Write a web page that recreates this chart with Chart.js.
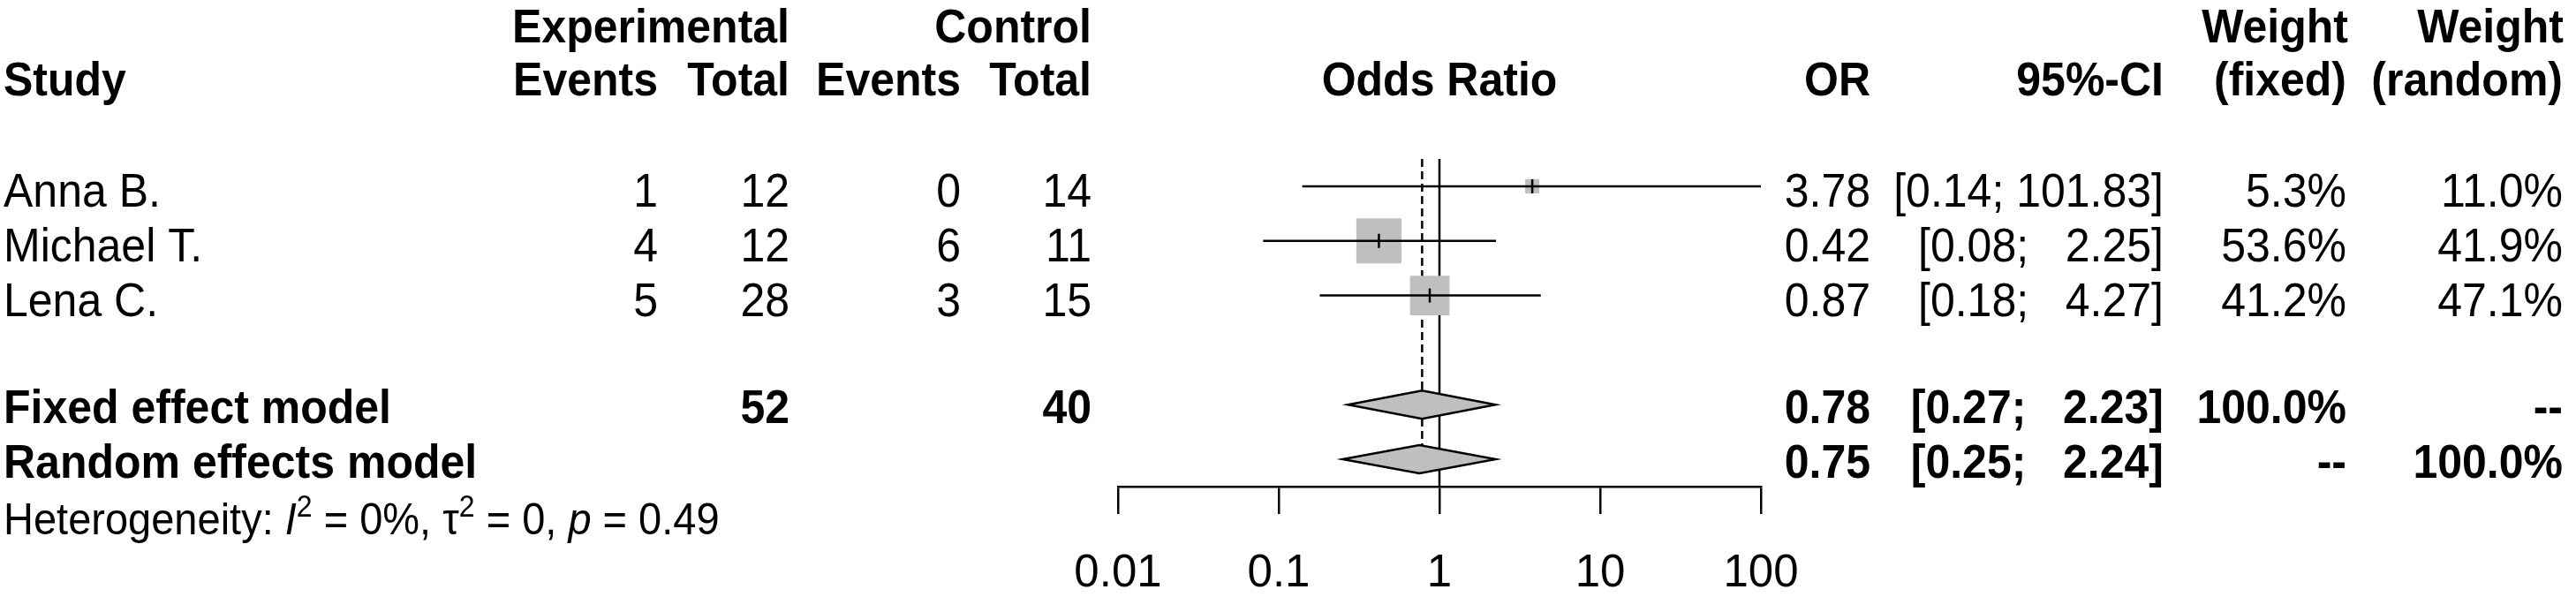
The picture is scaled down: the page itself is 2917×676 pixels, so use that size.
<!DOCTYPE html>
<html><head><meta charset="utf-8">
<script src="https://cdn.jsdelivr.net/npm/chart.js@4.4.1/dist/chart.umd.min.js"></script>
<style>html,body{margin:0;padding:0;background:#fff}canvas{display:block}</style>
</head><body>
<canvas id="c" width="2917" height="676"></canvas>
<script>
// ---- data ----
const studies = ["Anna B.", "Michael T.", "Lena C."];
const expEvents = [1, 4, 5];
const expTotal = [12, 12, 28];
const ctrlEvents = [0, 6, 3];
const ctrlTotal = [14, 11, 15];
const orValues = [3.78, 0.42, 0.87];
const ciLower = [0.14, 0.08, 0.18];
const ciUpper = [101.83, 2.25, 4.27];
const weightFixed = [5.3, 53.6, 41.2];
const weightRandom = [11.0, 41.9, 47.1];
const modelNames = ["Fixed effect model", "Random effects model"];
const modelOR = [0.78, 0.75];
const modelLower = [0.27, 0.25];
const modelUpper = [2.23, 2.24];
const modelWeightFixed = ["100.0%", "--"];
const modelWeightRandom = ["--", "100.0%"];
const totalExp = [52];
const totalCtrl = [40];
const xTicks = [0.01, 0.1, 1, 10, 100];
const studyRows = [0, 1, 2];
const modelRows = [4, 5];

// ---- styles ----
const FONT = "'Liberation Sans', Arial, Helvetica, sans-serif";
const FS = 50;
const VSTRETCH = 1.07;
const GRAY = '#bfbfbf';

const upperStrs = ciUpper.concat(modelUpper).map(v => v.toFixed(2));
const upW = Math.max(...upperStrs.map(s => s.length));
function ciText(lo, hi) { return '[' + lo.toFixed(2) + '; ' + hi.toFixed(2).padStart(upW, ' ') + ']'; }

function drawText(ctx, s, x, y, align, bold, size, italic) {
  ctx.save();
  ctx.font = (italic ? 'italic ' : '') + (bold ? 'bold ' : '') + (size || FS) + 'px ' + FONT;
  ctx.fillStyle = '#000';
  ctx.textAlign = align || 'left';
  ctx.textBaseline = 'alphabetic';
  ctx.translate(x, y);
  ctx.scale(1, VSTRETCH);
  ctx.fillText(s, 0, 0);
  ctx.restore();
}

const tablePlugin = {
  id: 'forestTable',
  beforeDatasetsDraw(chart) {
    const ctx = chart.ctx, xs = chart.scales.x, ys = chart.scales.y, ca = chart.chartArea;
    ctx.save();
    ctx.strokeStyle = '#000';
    ctx.lineWidth = 2.5;
    // line of no effect
    const x1 = xs.getPixelForValue(1);
    ctx.beginPath(); ctx.moveTo(x1, ca.top); ctx.lineTo(x1, ca.bottom); ctx.stroke();
    // dashed fixed-effect line
    const xf = xs.getPixelForValue(modelOR[0]);
    ctx.setLineDash([9, 5]);
    ctx.beginPath(); ctx.moveTo(xf, ca.top); ctx.lineTo(xf, ys.getPixelForValue(modelRows[1]) - 16); ctx.stroke();
    ctx.restore();
  },
  afterDatasetsDraw(chart) {
    const ctx = chart.ctx, xs = chart.scales.x, ys = chart.scales.y;
    // diamonds
    modelRows.forEach((r, i) => {
      const y = ys.getPixelForValue(r);
      const xl = xs.getPixelForValue(modelLower[i]);
      const xm = xs.getPixelForValue(modelOR[i]);
      const xh = xs.getPixelForValue(modelUpper[i]);
      ctx.save();
      ctx.beginPath();
      ctx.moveTo(xl, y); ctx.lineTo(xm, y - 16); ctx.lineTo(xh, y); ctx.lineTo(xm, y + 16); ctx.closePath();
      ctx.fillStyle = GRAY; ctx.fill();
      ctx.strokeStyle = '#000'; ctx.lineWidth = 2.5; ctx.stroke();
      ctx.restore();
    });
  },
  afterDraw(chart) {
    const ctx = chart.ctx, ys = chart.scales.y;
    // headers
    const h1 = 48, h2 = 108;
    drawText(ctx, 'Experimental', 894, h1, 'right', true);
    drawText(ctx, 'Control', 1236, h1, 'right', true);
    drawText(ctx, 'Weight', 2659, h1, 'right', true);
    drawText(ctx, 'Weight', 2903, h1, 'right', true);
    drawText(ctx, 'Study', 4, h2, 'left', true);
    drawText(ctx, 'Events', 745, h2, 'right', true);
    drawText(ctx, 'Total', 894, h2, 'right', true);
    drawText(ctx, 'Events', 1088, h2, 'right', true);
    drawText(ctx, 'Total', 1236, h2, 'right', true);
    drawText(ctx, 'Odds Ratio', chart.scales.x.getPixelForValue(1), h2, 'center', true);
    drawText(ctx, 'OR', 2118, h2, 'right', true);
    drawText(ctx, '95%-CI', 2450, h2, 'right', true);
    drawText(ctx, '(fixed)', 2657, h2, 'right', true);
    drawText(ctx, '(random)', 2902, h2, 'right', true);
    // study rows
    studies.forEach((s, i) => {
      const y = ys.getPixelForValue(studyRows[i]) + 23;
      drawText(ctx, s, 4, y, 'left');
      drawText(ctx, String(expEvents[i]), 745, y, 'right');
      drawText(ctx, String(expTotal[i]), 894, y, 'right');
      drawText(ctx, String(ctrlEvents[i]), 1088, y, 'right');
      drawText(ctx, String(ctrlTotal[i]), 1236, y, 'right');
      drawText(ctx, orValues[i].toFixed(2), 2118, y, 'right');
      drawText(ctx, ciText(ciLower[i], ciUpper[i]), 2450, y, 'right');
      drawText(ctx, weightFixed[i].toFixed(1) + '%', 2657, y, 'right');
      drawText(ctx, weightRandom[i].toFixed(1) + '%', 2902, y, 'right');
    });
    // model rows
    modelNames.forEach((s, i) => {
      const y = ys.getPixelForValue(modelRows[i]) + 21;
      drawText(ctx, s, 4, y, 'left', true);
      if (i === 0) {
        drawText(ctx, String(totalExp[0]), 894, y, 'right', true);
        drawText(ctx, String(totalCtrl[0]), 1236, y, 'right', true);
      }
      drawText(ctx, modelOR[i].toFixed(2), 2118, y, 'right', true);
      drawText(ctx, ciText(modelLower[i], modelUpper[i]), 2450, y, 'right', true);
      drawText(ctx, modelWeightFixed[i], 2657, y, 'right', true);
      drawText(ctx, modelWeightRandom[i], 2902, y, 'right', true);
    });
    // heterogeneity
    const hy = 605, hs = 47, sup = 32;
    let x = 4;
    const parts = [
      ['Heterogeneity: ', false, hs, 0],
      ['I', true, hs, 0],
      ['2', false, sup, -20],
      [' = 0%, ', false, hs, 0],
      ['\u03C4', false, hs, 0],
      ['2', false, sup, -20],
      [' = 0, ', false, hs, 0],
      ['p', true, hs, 0],
      [' = 0.49', false, hs, 0]
    ];
    parts.forEach(p => {
      ctx.save();
      ctx.font = (p[1] ? 'italic ' : '') + p[2] + 'px ' + FONT;
      ctx.fillStyle = '#000'; ctx.textAlign = 'left'; ctx.textBaseline = 'alphabetic';
      const w = ctx.measureText(p[0]).width;
      ctx.translate(x, hy + p[3]);
      ctx.scale(1, VSTRETCH);
      ctx.fillText(p[0], 0, 0);
      x += w;
      ctx.restore();
    });
  }
};

const ciDatasets = studies.map((s, i) => ({
  type: 'line',
  label: s,
  data: [{ x: ciLower[i], y: studyRows[i] }, { x: ciUpper[i], y: studyRows[i] }],
  borderColor: '#000', borderWidth: 2.5, pointRadius: 0, fill: false, order: 1
}));

const squareDataset = {
  type: 'scatter',
  label: 'OR',
  data: studies.map((s, i) => ({ x: orValues[i], y: studyRows[i] })),
  pointStyle: 'rect',
  pointRadius: weightFixed.map(w => 4.93 * Math.sqrt(w)),
  pointBackgroundColor: GRAY,
  pointBorderColor: GRAY,
  pointBorderWidth: 0,
  order: 3
};

const estDataset = {
  type: 'scatter',
  label: 'estimate',
  data: studies.map((s, i) => ({ x: orValues[i], y: studyRows[i] })),
  pointStyle: 'line',
  rotation: 90,
  pointRotation: 90,
  pointRadius: 8,
  pointBorderColor: '#000',
  pointBorderWidth: 2.5,
  order: 0
};

new Chart(document.getElementById('c'), {
  type: 'line',
  data: { datasets: [...ciDatasets, squareDataset, estDataset] },
  options: {
    responsive: false,
    devicePixelRatio: 1,
    animation: false,
    events: [],
    layout: { padding: { left: 1266, right: 923, top: 180, bottom: 0 } },
    plugins: { legend: { display: false }, tooltip: { enabled: false } },
    scales: {
      x: {
        type: 'logarithmic', min: 0.01, max: 100, position: 'bottom',
        afterBuildTicks: s => { s.ticks = xTicks.map(v => ({ value: v })); },
        afterFit: s => { s.height = 125; },
        ticks: {
          font: { family: FONT, size: 51 }, color: '#000', padding: 37,
          autoSkip: false, maxRotation: 0, minRotation: 0,
          callback: v => String(v)
        },
        grid: { drawOnChartArea: false, drawTicks: true, tickLength: 31, color: '#000', lineWidth: 2.5 },
        border: { display: true, color: '#000', width: 2.5 }
      },
      y: { type: 'linear', min: -0.5, max: 5.5, reverse: true, display: false }
    }
  },
  plugins: [tablePlugin]
});
</script>
</body></html>
